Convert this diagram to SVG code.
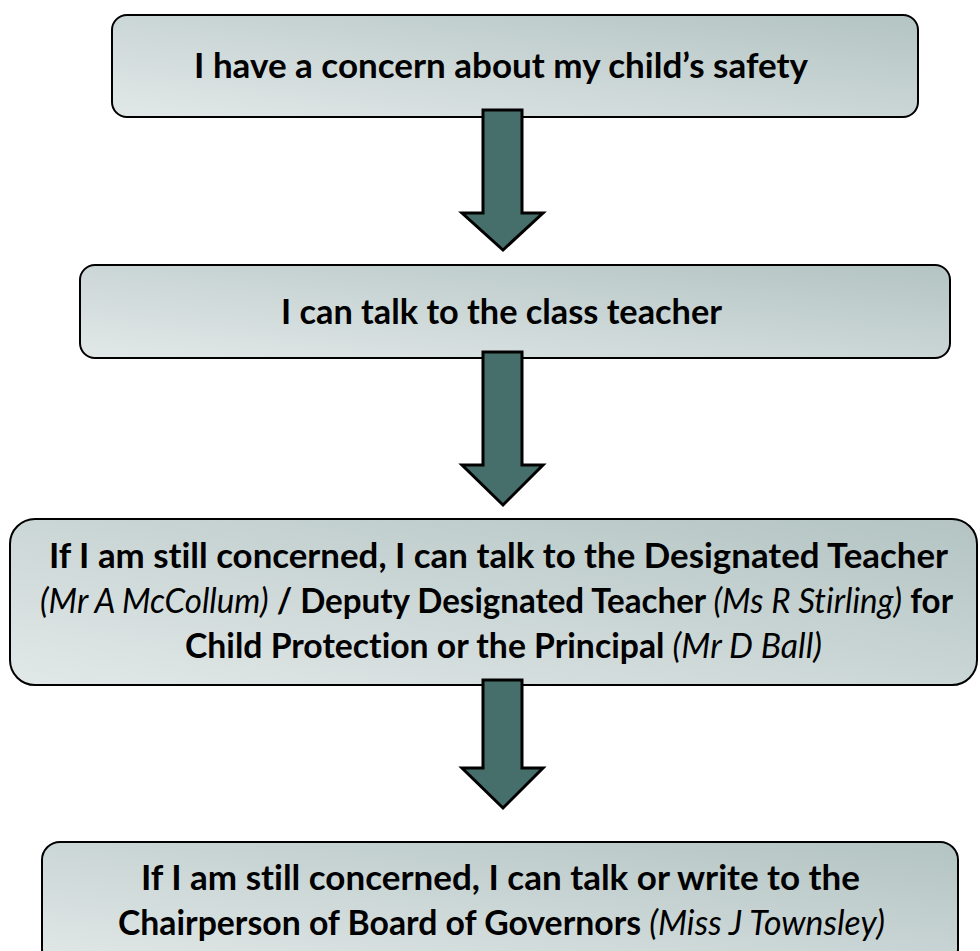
<svg xmlns="http://www.w3.org/2000/svg" width="980" height="951" viewBox="0 0 980 951">
<defs>
<linearGradient id="g" x1="0" y1="1" x2="1" y2="0">
<stop offset="0" stop-color="#e2e8e8"/>
<stop offset="1" stop-color="#b3c4c3"/>
</linearGradient>
</defs>
<style>
.box{fill:url(#g);stroke:#000;stroke-width:2}
.arr{fill:#466e6a;stroke:#000;stroke-width:3;stroke-linejoin:miter}
text{font-family:Lato,"Open Sans","Liberation Sans",sans-serif;font-size:34px;fill:#000;font-weight:bold;font-variant-ligatures:none}
.i{font-style:italic;font-weight:normal}
</style>
<rect width="980" height="951" fill="#fff"/>
<g id="node1">
<rect class="box" x="112" y="15" width="806" height="102" rx="15"/>
<text x="194" y="78" textLength="614" lengthAdjust="spacingAndGlyphs">I have a concern about my child’s safety</text>
</g>
<g id="node2">
<rect class="box" x="80" y="265" width="870" height="93" rx="15"/>
<text x="281" y="324" textLength="441" lengthAdjust="spacingAndGlyphs">I can talk to the class teacher</text>
</g>
<g id="node3">
<rect class="box" x="10" y="519" width="967" height="166" rx="25"/>
<text x="49" y="568" textLength="899" lengthAdjust="spacingAndGlyphs">If I am still concerned, I can talk to the Designated Teacher</text>
<text x="40" y="613" textLength="913" lengthAdjust="spacingAndGlyphs"><tspan class="i">(Mr A McCollum)</tspan> / Deputy Designated Teacher <tspan class="i">(Ms R Stirling)</tspan> for</text>
<text x="185" y="658" textLength="637" lengthAdjust="spacingAndGlyphs">Child Protection or the Principal <tspan class="i">(Mr D Ball)</tspan></text>
</g>
<g id="node4">
<rect class="box" x="42" y="842" width="916" height="125" rx="18"/>
<text x="141" y="890" textLength="719" lengthAdjust="spacingAndGlyphs">If I am still concerned, I can talk or write to the</text>
<text x="118" y="935" textLength="767" lengthAdjust="spacingAndGlyphs">Chairperson of Board of Governors <tspan class="i">(Miss J Townsley)</tspan></text>
</g>
<g id="connectors">
<polygon class="arr" points="483,110 522,110 522,213 543,213 503,250 462,213 483,213"/>
<polygon class="arr" points="483,352 522,352 522,465 543,465 503,505 462,465 483,465"/>
<polygon class="arr" points="483,680 522,680 522,768 543,768 503,808 462,768 483,768"/>
</g>
</svg>
